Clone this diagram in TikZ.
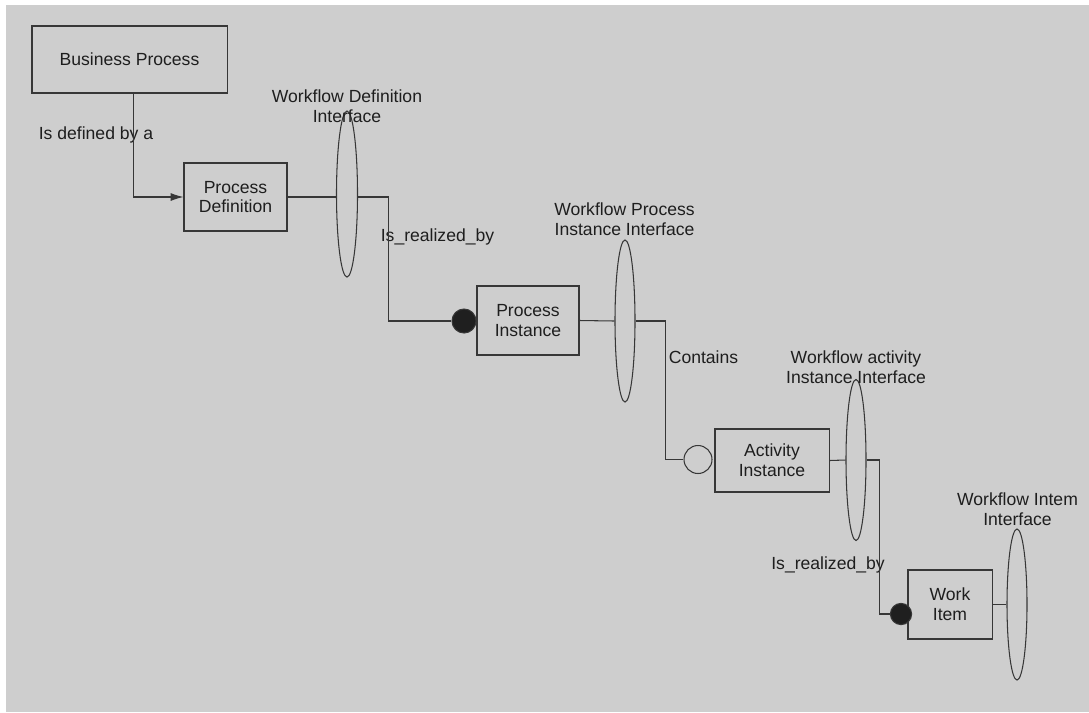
\documentclass[tikz,border=0pt]{standalone}
\usepackage{fontspec}
\setmainfont{Liberation Sans}
\usepackage{xcolor}
\usetikzlibrary{arrows}
\usetikzlibrary{arrows.meta}
\usetikzlibrary{shapes.geometric}
\definecolor{bggray}{RGB}{206,206,206}
\definecolor{linegray}{RGB}{55,55,55}
\definecolor{textgray}{RGB}{30,30,30}

\begin{document}
\begin{tikzpicture}[x=0.025cm,y=-0.025cm,
  every node/.style={font=\fontsize{12.5}{14}\selectfont,text=textgray,align=center},
  unitbox/.style={draw=linegray,line width=0.75pt,inner sep=0pt},
  iface/.style={draw=linegray,line width=0.75pt,ellipse,inner sep=0pt,minimum width=0.5cm},
  plug/.style={circle,inner sep=0pt,draw=linegray,line width=0.75pt}]
\useasboundingbox (0,0) rectangle (1089,712);
\fill[bggray] (6,5) rectangle (1089,712);
\node[unitbox,minimum width=4.875cm,minimum height=1.675cm] (bp) at (129.5,59.5) {Business Process};
\node[unitbox,minimum width=2.575cm,minimum height=1.7cm] (pd) at (235.5,197) {Process\\Definition};
\node[unitbox,minimum width=2.55cm,minimum height=1.725cm] (pi) at (528,320.5) {Process\\Instance};
\node[unitbox,minimum width=2.85cm,minimum height=1.575cm] (ai) at (772,460.5) {Activity\\Instance};
\node[unitbox,minimum width=2.1cm,minimum height=1.725cm] (wi) at (950,604.5) {Work\\Item};
\node[iface,minimum width=0.525cm,minimum height=4.15cm] (wdi) at (347,194) {};
\node[iface,minimum height=4.05cm] (wpi) at (625,321) {};
\node[iface,minimum height=4.025cm] (wai) at (856,460) {};
\node[iface,minimum height=3.775cm] (wii) at (1017,604.5) {};
\node[plug,fill=black!88,minimum size=0.6cm] (dota) at (464,321) {};
\node[plug,minimum size=0.7cm] (ring) at (698,459.5) {};
\node[plug,fill=black!88,minimum size=0.53cm] (dotb) at (901,614) {};
\node (lwdi) at (347,106) {Workflow Definition\\Interface};
\node (lwpi) at (624.5,219) {Workflow Process\\Instance Interface};
\node (lwai) at (856,367) {Workflow activity\\Instance Interface};
\node (lwii) at (1017.5,509) {Workflow Intem\\Interface};
\node (ldef) at (96,135) {Is defined by a};
\node (lrza) at (437.5,237) {Is\_realized\_by};
\node (lcon) at (703.5,357) {Contains};
\node (lrzb) at (828,565) {Is\_realized\_by};
\draw[linegray,line width=0.75pt,-{Latex[length=0.32cm,width=0.2cm]}] ([xshift=0.11cm]bp.south) |- (pd.west);
\draw[linegray,line width=0.75pt] (pd.east) -- (pd.east -| wdi.west);
\draw[linegray,line width=0.75pt] (pd.east -| wdi.east) -- ++(30,0) |- (dota.west);
\draw[linegray,line width=0.75pt] (pi.east) -- (wpi.west);
\draw[linegray,line width=0.75pt] (wpi.east) -- ++(30,0) |- (ring.west);
\draw[linegray,line width=0.75pt] (ai.east) -- (wai.west);
\draw[linegray,line width=0.75pt] (wai.east) -- ++(13,0) |- (dotb.west);
\draw[linegray,line width=0.75pt] (wi.east) -- (wii.west);
\end{tikzpicture}
\end{document}
